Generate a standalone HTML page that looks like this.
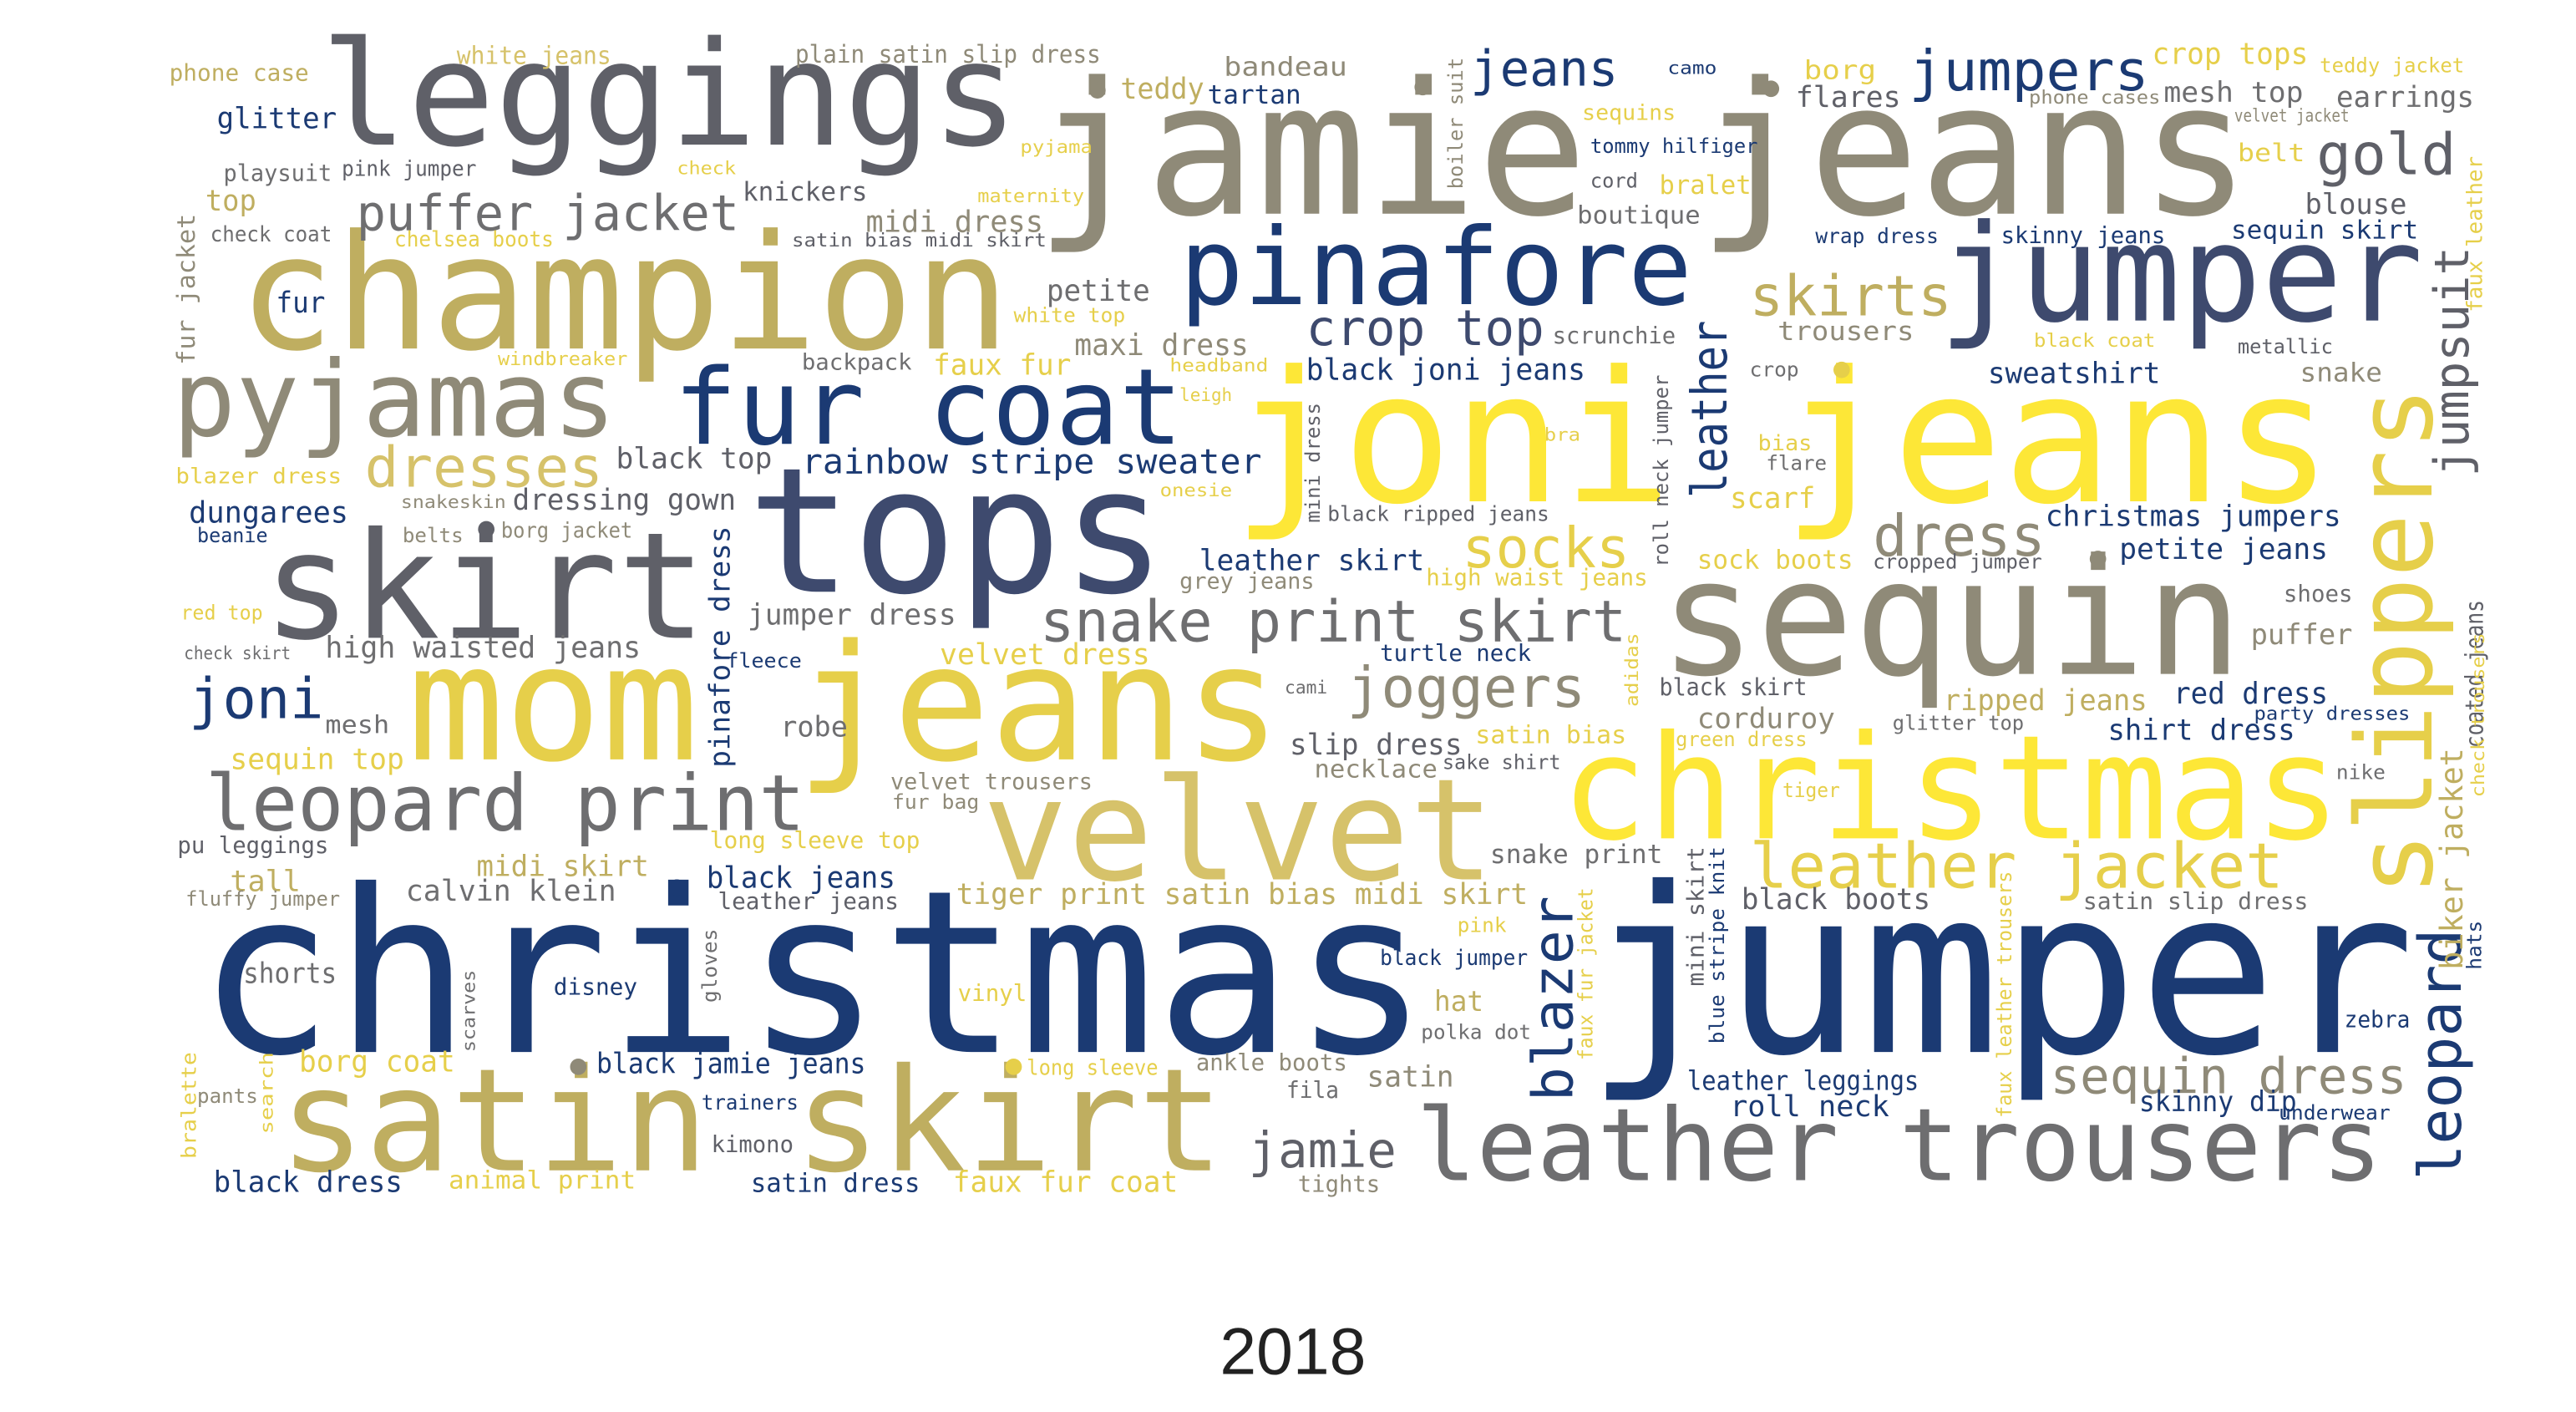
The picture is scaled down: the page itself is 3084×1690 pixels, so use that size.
<!DOCTYPE html>
<html><head><meta charset="utf-8"><style>
html,body{margin:0;padding:0;background:#fff;}
svg{display:block;}
text{font-family:"DejaVu Sans Mono","Liberation Mono",monospace;}
</style></head><body>
<svg id="cloud" width="3084" height="1690" viewBox="0 0 1568 859" preserveAspectRatio="none" xmlns="http://www.w3.org/2000/svg">
<rect width="1568" height="859" fill="#fff"/>
<text x="787" y="836" font-size="40" fill="#222" text-anchor="middle" style="font-family:'Liberation Sans',sans-serif">2018</text>
</svg>
<script>
const C={N:'#1b3a73',B:'#3e4a6e',G:'#5f6068',g:'#6e6e70',O:'#8f8a78',K:'#bfae60',Y:'#e6cf4a',Z:'#fde737',L:'#d6c26a'};
// horizontal words: [text, x1, x2, baseline, size, colour]
const hWords=[
["jamie jeans",630,1370,130,112,'O'],["leggings",195,620,88,88,'G'],["champion",145,615,212,97,'K'],
["pinafore",718,1030,185,65,'N'],["jumper",1180,1475,195,82,'B'],["pyjamas",105,375,265,64,'O'],
["fur coat",410,720,270,64,'N'],["joni jeans",750,1420,305,111,'Z'],["tops",455,710,360,106,'B'],
["skirt",160,430,388,90,'G'],["sequin",1010,1365,410,98,'O'],["mom jeans",248,780,462,98,'Y'],
["christmas",950,1425,510,88,'Z'],["velvet",598,910,535,86,'L'],["christmas",120,870,640,138,'N'],
["jumper",965,1470,640,140,'N'],["satin skirt",170,745,712,87,'K'],["leather trousers",862,1450,718,61,'g'],
["leopard print",125,490,505,47,'g'],["snake print skirt",633,990,390,35,'g'],["leather jacket",1065,1390,540,38,'Y'],
["sequin dress",1248,1465,665,30,'O'],["joggers",820,965,430,34,'O'],["skirts",1065,1188,192,34,'K'],
["dress",1140,1245,338,35,'O'],["socks",890,992,345,34,'Y'],["crop top",795,940,210,30,'B'],
["rainbow stripe sweater",488,768,288,21,'N'],["dresses",222,367,296,34,'L'],["puffer jacket",217,450,140,30,'g'],
["gold",1410,1495,106,35,'G'],["jumpers",1162,1308,55,34,'N'],["jeans",895,985,52,30,'N'],
["jamie",760,850,710,30,'G'],["joni",115,197,437,34,'N'],
["black joni jeans",795,965,231,18,'N'],["maxi dress",654,760,216,18,'O'],["faux fur",568,652,228,17.5,'Y'],
["petite",637,700,183,18,'g'],["midi dress",527,635,141,18,'O'],["knickers",452,528,122,16,'G'],
["black top",375,470,285,17.5,'G'],["dressing gown",312,448,310,17.5,'G'],["dungarees",115,212,318,18,'N'],
["high waisted jeans",198,390,400,18,'g'],["jumper dress",455,582,380,17.5,'g'],["velvet dress",572,700,404,17.5,'Y'],
["robe",475,516,448,17,'g'],["mesh",198,237,446,15,'g'],["sequin top",140,246,468,17.5,'Y'],
["leather skirt",730,867,347,17.5,'N'],["high waist jeans",868,1003,356,14,'Y'],["grey jeans",718,800,358,13.5,'O'],
["black ripped jeans",808,943,317,12.5,'G'],["turtle neck",840,932,402,14,'N'],["slip dress",785,890,459,17.5,'G'],
["necklace",800,875,473,15,'O'],["satin bias",898,990,452,15,'Y'],["sake shirt",878,950,468,12,'G'],
["cami",782,808,422,11,'g'],["velvet trousers",542,665,480,13.5,'O'],["fur bag",543,596,492,12,'O'],
["long sleeve top",432,560,516,14,'Y'],["midi skirt",290,395,533,17.5,'K'],["calvin klein",247,375,548,17.5,'g'],
["black jeans",430,545,540,18,'N'],["leather jeans",437,547,553,14,'G'],["tiger print satin bias midi skirt",582,930,550,17.5,'K'],
["snake print",907,1012,525,16,'g'],["black boots",1060,1175,553,17.5,'G'],["satin slip dress",1268,1405,553,14,'g'],
["pink",887,917,567,12,'Y'],["black jumper",840,930,587,13,'N'],["hat",873,903,615,17,'K'],
["polka dot",865,932,632,12,'g'],["ankle boots",728,820,651,14,'O'],["fila",783,815,668,14,'g'],
["satin",832,885,661,17.5,'O'],["tights",790,840,725,14,'O'],["faux fur coat",580,717,725,17.5,'Y'],
["satin dress",457,560,725,16,'N'],["kimono",433,483,701,14,'G'],["trainers",427,486,675,12.5,'N'],
["black jamie jeans",363,527,653,17,'N'],["long sleeve",625,705,654,13,'Y'],["vinyl",583,625,609,14,'Y'],
["disney",337,388,605,14,'N'],["borg coat",182,277,652,18,'Y'],["shorts",148,205,598,17,'g'],
["black dress",130,245,725,17.5,'N'],["animal print",273,387,723,15,'Y'],["pants",120,157,671,12,'O'],
["tall",140,183,542,17.5,'K'],["fluffy jumper",113,207,551,12,'O'],["pu leggings",108,200,519,14,'G'],
["check skirt",112,177,401,11,'g'],["red top",110,160,377,12,'Y'],["beanie",120,163,330,12,'N'],
["belts",245,282,330,12,'O'],["snakeskin",244,308,309,11,'O'],["borg jacket",305,385,327,13,'O'],
["blazer dress",107,208,294,13,'Y'],["windbreaker",303,382,222,11.5,'Y'],["fur",168,198,190,17.5,'N'],
["check coat",128,202,147,13,'g'],["chelsea boots",240,337,150,13,'Y'],["top",125,156,128,17.5,'K'],
["playsuit",136,202,110,14,'g'],["pink jumper",208,290,107,13,'G'],["glitter",132,205,78,17.5,'N'],
["phone case",103,188,49,14,'K'],["white jeans",278,372,39,15,'L'],["plain satin slip dress",484,670,38,15,'O'],
["teddy",682,733,60,17.5,'K'],["tartan",735,792,63,16,'N'],["bandeau",745,820,46,16,'O'],
["camo",1015,1045,45,11,'N'],["borg",1098,1142,48,16,'Y'],["flares",1093,1157,65,17.5,'G'],
["crop tops",1310,1405,39,18,'Y'],["teddy jacket",1412,1500,44,12,'Y'],["phone cases",1235,1315,63,11.5,'O'],
["mesh top",1317,1402,62,17,'g'],["earrings",1422,1506,65,17.5,'g'],["velvet jacket",1360,1430,74,11,'O'],
["sequins",963,1020,73,13,'Y'],["pyjama",621,665,93,11,'Y'],["check",412,448,106,11,'Y'],
["tommy hilfiger",968,1070,93,12,'N'],["cord",968,997,114,12,'G'],["bralet",1010,1066,118,16,'Y'],
["belt",1362,1403,98,15,'Y'],["boutique",960,1035,136,15,'g'],["maternity",595,660,123,11.5,'Y'],
["satin bias midi skirt",482,637,150,11.5,'G'],["blouse",1403,1465,130,17,'G'],["wrap dress",1105,1180,148,12.5,'N'],
["skinny jeans",1218,1318,148,14,'N'],["sequin skirt",1358,1472,145,15.5,'N'],["white top",617,685,196,12,'Y'],
["backpack",488,555,225,13.5,'g'],["headband",712,772,226,11,'Y'],["leigh",718,750,244,11,'Y'],
["scrunchie",945,1020,209,14,'g'],["trousers",1082,1165,207,16,'O'],["black coat",1238,1312,211,11.5,'Y'],
["metallic",1362,1420,215,12,'G'],["crop",1065,1095,229,12,'g'],["sweatshirt",1210,1315,233,17.5,'N'],
["snake",1400,1450,232,16,'O'],["bra",940,962,268,11,'Y'],["bias",1070,1103,274,13,'Y'],
["flare",1075,1112,286,12,'g'],["scarf",1053,1105,309,17.5,'Y'],["onesie",706,750,302,11,'Y'],
["christmas jumpers",1245,1425,320,17.5,'N'],["petite jeans",1290,1417,340,17.5,'N'],["sock boots",1033,1128,346,16,'Y'],
["cropped jumper",1140,1243,346,12,'G'],["shoes",1390,1432,366,14,'g'],["puffer",1370,1432,392,17,'O'],
["fleece",442,488,406,12,'N'],["black skirt",1010,1100,423,14.5,'G'],["corduroy",1033,1117,443,17,'O'],
["green dress",1020,1100,454,12,'Y'],["ripped jeans",1183,1307,432,17.5,'K'],["glitter top",1152,1232,444,12,'g'],
["red dress",1323,1417,428,18,'N'],["party dresses",1372,1467,438,11.5,'N'],["shirt dress",1283,1397,450,17.5,'N'],
["nike",1422,1452,474,12,'g'],["tiger",1085,1120,485,12,'Y'],["zebra",1427,1467,625,14,'N'],
["leather leggings",1027,1168,663,16.5,'N'],["roll neck",1053,1150,679,17.5,'N'],["skinny dip",1302,1398,676,17,'N'],
["underwear",1387,1455,681,12,'N']
];
// vertical words (read bottom-up): [text, centreX, yBottom, yTop, size, colour]
const vWords=[
["slippers",1457,545,235,64,'Y'],["leather",1040,303,195,30,'N'],["blazer",945,670,545,34,'N'],
["leopard",1485,718,565,36,'N'],["jumpsuit",1492,290,150,29,'G'],["biker jacket",1492,590,455,19,'K'],
["coated jeans",1506,455,365,15,'G'],["pinafore dress",438,467,320,17,'N'],["boiler suit",886,115,35,12,'O'],
["faux leather",1506,190,95,13,'Y'],["fur jacket",113,222,130,15,'O'],["mini dress",799,318,245,12,'G'],
["roll neck jumper",1011,345,228,12,'G'],["adidas",993,430,385,11,'Y'],["check trousers",1508,485,385,11,'Y'],
["mini skirt",1032,600,515,14,'G'],["blue stripe knit",1045,635,515,12,'N'],["faux fur jacket",965,645,540,12,'Y'],
["faux leather trousers",1220,680,530,12,'Y'],["gloves",432,610,565,12,'g'],["scarves",285,640,590,11,'g'],
["bralette",115,705,640,12,'Y'],["search",162,690,640,11,'Y'],["hats",1506,590,560,12,'N']
];
// dot marks: [x, y, colour]
const dots=[[412,540,'N'],[296,322,'G'],[668,55,'O'],[866,53,'O'],[1078,54,'O'],[1121,225,'Y'],[1277,340,'O'],[352,649,'O'],[617,649,'Y']];

const svg=document.getElementById('cloud');
const NS='http://www.w3.org/2000/svg';
function slug(s){return s.replace(/\s+/g,'-');}
hWords.forEach(w=>{
  const t=document.createElementNS(NS,'text');
  t.setAttribute('x',w[1]);t.setAttribute('y',w[3]);
  t.setAttribute('font-size',w[4]);t.setAttribute('fill',C[w[5]]);
  t.setAttribute('textLength',w[2]-w[1]);t.setAttribute('lengthAdjust','spacingAndGlyphs');
  
  
  t.textContent=w[0];svg.appendChild(t);
});
vWords.forEach(w=>{
  const t=document.createElementNS(NS,'text');
  const bx=w[1]+w[4]*0.36;
  t.setAttribute('x',0);t.setAttribute('y',0);
  t.setAttribute('transform','translate('+bx+','+w[2]+') rotate(-90)');
  t.setAttribute('font-size',w[4]);t.setAttribute('fill',C[w[5]]);
  t.setAttribute('textLength',w[2]-w[3]);t.setAttribute('lengthAdjust','spacingAndGlyphs');
  
  
  t.textContent=w[0];svg.appendChild(t);
});
dots.forEach(d=>{
  const c=document.createElementNS(NS,'circle');
  c.setAttribute('cx',d[0]);c.setAttribute('cy',d[1]);c.setAttribute('r',5);c.setAttribute('fill',C[d[2]]);
  
  
  svg.appendChild(c);
});
</script>
</body></html>
